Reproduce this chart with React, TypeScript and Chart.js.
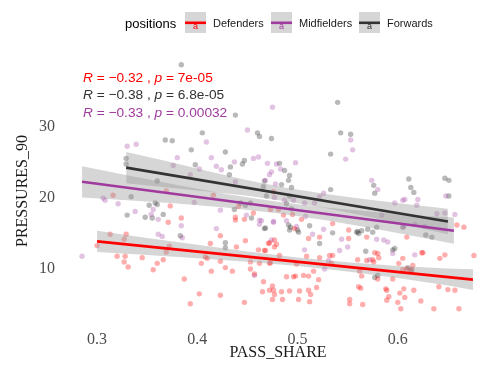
import React, { useEffect, useRef } from "react";
import { Chart, registerables } from "chart.js";

Chart.register(...registerables);

// ---- data ----
const seriesNames = ["Defenders", "Midfielders", "Forwards"];
const legendTitle = "positions";
const xTicks = [0.3, 0.4, 0.5, 0.6];
const yTicks = [10, 20, 30];
const xTitle = "PASS_SHARE";
const yTitle = "PRESSURES_90";

const corLabels = [
  { r: "−0.32", p: "7e-05" },
  { r: "−0.38", p: "6.8e-05" },
  { r: "−0.33", p: "0.00032" },
];

const defendersPoints: number[][] = [
  [0.316, 20.3], [0.369, 20.9], [0.416, 20.3], [0.373, 18.8], [0.371, 16.5], [0.384, 17.1], [0.423, 14.6],
  [0.448, 13.9], [0.413, 13.5], [0.313, 14.8], [0.329, 14.8], [0.327, 14.1], [0.30, 13.2], [0.32, 11.7],
  [0.328, 11.7], [0.327, 10.9], [0.331, 10.2], [0.345, 11.5], [0.36, 10.7], [0.366, 11.2], [0.356, 9.8],
  [0.369, 12.3], [0.372, 13.1], [0.387, 8.5], [0.402, 6.4], [0.393, 5.0], [0.404, 10.7], [0.41, 11.4],
  [0.408, 11.6], [0.414, 9.6], [0.423, 11.0], [0.428, 10.1], [0.435, 9.6], [0.423, 6.2], [0.447, 5.2],
  [0.438, 17.2], [0.438, 16.8], [0.447, 16.9], [0.456, 17.8], [0.441, 18.7], [0.453, 9.9], [0.453, 10.9],
  [0.457, 9.2], [0.439, 13.0], [0.461, 12.6], [0.468, 12.5], [0.472, 13.6], [0.477, 13.0], [0.479, 13.4],
  [0.462, 10.7], [0.472, 10.7], [0.466, 8.1], [0.475, 7.5], [0.472, 6.9], [0.465, 6.7], [0.475, 5.6],
  [0.477, 6.3], [0.476, 20.8], [0.473, 18.3], [0.481, 18.3], [0.486, 17.5], [0.504, 16.9], [0.495, 17.6],
  [0.497, 15.6], [0.511, 14.2], [0.522, 14.4], [0.535, 16.3], [0.471, 13.5], [0.477, 14.0], [0.467, 12.5],
  [0.482, 11.8], [0.473, 10.8], [0.499, 10.6], [0.509, 11.7], [0.522, 11.5], [0.532, 11.8], [0.535, 11.8],
  [0.534, 10.7], [0.489, 8.8], [0.496, 8.8], [0.498, 8.9], [0.506, 9.0], [0.511, 8.9], [0.516, 9.6],
  [0.521, 8.4], [0.519, 7.3], [0.502, 6.8], [0.492, 6.8], [0.484, 6.7], [0.476, 6.9], [0.485, 5.6],
  [0.501, 5.6], [0.512, 5.3], [0.513, 6.3], [0.511, 6.9], [0.552, 5.6], [0.552, 5.0], [0.565, 4.9],
  [0.56, 11.2], [0.569, 11.1], [0.562, 9.6], [0.564, 8.9], [0.561, 7.4], [0.563, 7.2], [0.551, 15.4],
  [0.551, 14.2], [0.569, 14.4], [0.577, 12.2], [0.58, 12.1], [0.581, 11.5], [0.575, 11.2], [0.576, 10.9],
  [0.609, 14.4], [0.659, 16.1], [0.666, 15.8], [0.605, 11.4], [0.601, 10.7], [0.605, 9.8], [0.609, 9.9],
  [0.613, 9.7], [0.615, 10.4], [0.624, 12.2], [0.625, 12.2], [0.642, 11.4], [0.647, 11.9], [0.676, 11.8],
  [0.595, 8.5], [0.606, 7.1], [0.602, 6.5], [0.607, 5.9], [0.58, 8.5], [0.589, 6.9], [0.588, 7.1],
  [0.591, 6.0], [0.589, 5.5], [0.6, 5.2], [0.603, 4.3], [0.616, 6.9], [0.623, 5.4], [0.636, 4.3],
  [0.65, 7.0], [0.657, 6.9], [0.661, 4.3], [0.641, 7.4],
];

const midfieldersPoints: number[][] = [
  [0.475, 32.7], [0.45, 29.5], [0.409, 27.8], [0.339, 27.5], [0.33, 27.2], [0.38, 25.6], [0.414, 25.6],
  [0.456, 25.5], [0.461, 25.7], [0.437, 25.0], [0.376, 24.5], [0.419, 24.4], [0.47, 24.8], [0.479, 24.7],
  [0.402, 24.0], [0.393, 23.2], [0.424, 23.9], [0.472, 23.2], [0.474, 23.6], [0.468, 22.4], [0.478, 21.9],
  [0.438, 22.2], [0.306, 19.9], [0.308, 19.6], [0.321, 19.1], [0.356, 18.3], [0.338, 18.0], [0.354, 17.6],
  [0.361, 16.9], [0.384, 16.0], [0.397, 19.3], [0.423, 18.2], [0.419, 15.6], [0.361, 14.8], [0.365, 14.5],
  [0.385, 14.3], [0.285, 11.7], [0.449, 17.5], [0.462, 16.8], [0.464, 16.7], [0.462, 16.2], [0.476, 16.5],
  [0.477, 20.0], [0.474, 14.0], [0.457, 9.0], [0.553, 28.1], [0.555, 26.7], [0.548, 25.4], [0.498, 24.9],
  [0.483, 24.0], [0.526, 20.6], [0.522, 20.1], [0.574, 22.4], [0.58, 21.1], [0.648, 20.2], [0.607, 19.7],
  [0.62, 19.7], [0.487, 19.6], [0.496, 19.6], [0.476, 16.6], [0.489, 16.7], [0.499, 15.9], [0.508, 17.3],
  [0.507, 19.2], [0.517, 19.2], [0.515, 14.8], [0.526, 15.5], [0.507, 12.6], [0.531, 11.1], [0.527, 9.9],
  [0.544, 14.1], [0.542, 12.5], [0.55, 13.0], [0.572, 11.2], [0.579, 14.1], [0.586, 14.0], [0.59, 13.7],
  [0.595, 12.1], [0.584, 17.5], [0.597, 19.2], [0.605, 19.6], [0.619, 18.9], [0.606, 15.9], [0.617, 16.2],
  [0.627, 15.9], [0.639, 17.7], [0.647, 17.8], [0.657, 17.6], [0.617, 11.9],
];

const forwardsPoints: number[][] = [
  [0.384, 38.7], [0.438, 31.6], [0.46, 29.1], [0.462, 28.6], [0.405, 29.1], [0.474, 28.3], [0.368, 28.1],
  [0.375, 28.0], [0.394, 26.7], [0.428, 26.4], [0.447, 25.2], [0.445, 24.7], [0.329, 25.5], [0.329, 24.7],
  [0.398, 24.6], [0.433, 24.3], [0.432, 23.2], [0.36, 22.3], [0.466, 21.5], [0.334, 20.1], [0.352, 18.9],
  [0.358, 19.2], [0.36, 19.0], [0.33, 17.5], [0.348, 17.2], [0.355, 17.1], [0.366, 17.6], [0.428, 13.6],
  [0.428, 12.9], [0.383, 14.6], [0.454, 17.1], [0.437, 18.3], [0.443, 19.2], [0.453, 19.2], [0.448, 18.9],
  [0.468, 15.7], [0.54, 33.4], [0.543, 29.1], [0.553, 28.9], [0.533, 26.1], [0.482, 24.8], [0.487, 23.8],
  [0.492, 23.1], [0.491, 22.4], [0.484, 21.8], [0.467, 22.3], [0.494, 21.4], [0.533, 21.1], [0.576, 21.7],
  [0.577, 20.6], [0.611, 22.6], [0.613, 21.4], [0.616, 20.7], [0.647, 22.7], [0.651, 22.4], [0.651, 20.2],
  [0.469, 20.2], [0.492, 20.2], [0.489, 19.1], [0.494, 18.4], [0.491, 16.1], [0.492, 15.4], [0.493, 15.8],
  [0.467, 15.6], [0.5, 15.4], [0.501, 15.1], [0.512, 16.0], [0.522, 13.5], [0.535, 15.0], [0.559, 15.1],
  [0.56, 15.2], [0.564, 15.3], [0.561, 14.9], [0.568, 12.4], [0.57, 15.5], [0.575, 15.1], [0.579, 15.8],
  [0.595, 12.6], [0.597, 12.8], [0.605, 15.8], [0.628, 14.7], [0.634, 14.4], [0.61, 10.1], [0.614, 9.8],
  [0.577, 8.7], [0.58, 9.0],
];

// fitted lines (endpoints)
const defendersFitX = [0.30, 0.675];
const defendersFitY = [13.8, 8.4];
const midfieldersFitX = [0.285, 0.656];
const midfieldersFitY = [22.2, 15.3];
const forwardsFitX = [0.329, 0.65];
const forwardsFitY = [24.2, 16.6];

// confidence bands
const defendersBandX = [0.30, 0.35, 0.40, 0.45, 0.50, 0.55, 0.60, 0.65, 0.675];
const defendersBandUpper = [15.3, 14.28, 13.31, 12.36, 11.52, 10.85, 10.33, 9.96, 9.85];
const defendersBandLower = [12.3, 11.88, 11.41, 10.92, 10.32, 9.55, 8.63, 7.56, 6.95];
const midfieldersBandX = [0.285, 0.33, 0.38, 0.43, 0.48, 0.53, 0.58, 0.63, 0.656];
const midfieldersBandUpper = [24.4, 23.11, 21.73, 20.45, 19.37, 18.54, 17.91, 17.38, 17.15];
const midfieldersBandLower = [20.0, 19.61, 19.13, 18.55, 17.77, 16.74, 15.51, 14.18, 13.45];
const forwardsBandX = [0.329, 0.37, 0.41, 0.45, 0.49, 0.53, 0.57, 0.61, 0.65];
const forwardsBandUpper = [26.4, 25.08, 23.73, 22.43, 21.33, 20.44, 19.69, 19.04, 18.4];
const forwardsBandLower = [22.0, 21.38, 20.83, 20.23, 19.43, 18.44, 17.29, 16.04, 14.8];

// ---- styles ----
const lineColors = ["#FF0000", "#A03A9E", "#333333"];
const pointColors = ["rgba(255,0,0,0.32)", "rgba(160,58,158,0.3)", "rgba(51,51,51,0.34)"];
const bandFill = "rgba(153,153,153,0.4)";
const SANS = '"Liberation Sans", Arial, sans-serif';
const SERIF = '"Liberation Serif", "DejaVu Serif", serif';

const toXY = (xs: number[], ys: number[]) => xs.map((x, i) => ({ x, y: ys[i] }));
const pairs = (a: number[][]) => a.map(([x, y]) => ({ x, y }));

const overlayPlugin = {
  id: "overlay",
  afterDraw(chart: any) {
    const ctx = chart.ctx as CanvasRenderingContext2D;
    const area = chart.chartArea;
    ctx.save();
    // legend
    ctx.textBaseline = "middle";
    ctx.textAlign = "left";
    ctx.fillStyle = "#000";
    ctx.font = `13px ${SANS}`;
    ctx.fillText(legendTitle, 125, 24);
    const boxX = [185, 271, 359];
    seriesNames.forEach((name, i) => {
      const bx = boxX[i];
      ctx.fillStyle = "#D6D6D6";
      ctx.fillRect(bx, 12, 21, 21);
      ctx.fillStyle = lineColors[i];
      ctx.font = `9px ${SANS}`;
      ctx.textAlign = "center";
      ctx.fillText("a", bx + 10.5, 26.5);
      ctx.strokeStyle = lineColors[i];
      ctx.lineWidth = 2.6;
      ctx.beginPath();
      ctx.moveTo(bx, 22.8);
      ctx.lineTo(bx + 21, 22.8);
      ctx.stroke();
      ctx.textAlign = "left";
      ctx.font = `11px ${SANS}`;
      ctx.fillStyle = "#1A1A1A";
      ctx.fillText(name, bx + 28, 23.5);
    });
    // correlation labels
    const textColors = [lineColors[0], lineColors[2], lineColors[1]];
    const lineY = [78, 95.5, 113.5];
    corLabels.forEach((lab, i) => {
      let x = area.left + 21;
      const y = lineY[i];
      ctx.fillStyle = textColors[i];
      const runs: [string, boolean][] = [
        ["R", true],
        [` = ${lab.r} , `, false],
        ["p", true],
        [` = ${lab.p}`, false],
      ];
      runs.forEach(([t, it]) => {
        ctx.font = `${it ? "italic " : ""}13.7px ${SANS}`;
        ctx.fillText(t, x, y);
        x += ctx.measureText(t).width;
      });
    });
    ctx.restore();
  },
};

export default function App() {
  const ref = useRef<HTMLCanvasElement>(null);
  useEffect(() => {
    const canvas = ref.current!;
    const lineDs = (xs: number[], ys: number[], i: number) => ({
      type: "line" as const,
      data: toXY(xs, ys),
      borderColor: lineColors[i],
      borderWidth: 2.6,
      pointRadius: 0,
      fill: false,
      order: 0,
      tension: 0,
    });
    const bandDs = (xs: number[], ys: number[], fill: any) => ({
      type: "line" as const,
      data: toXY(xs, ys),
      borderColor: "rgba(0,0,0,0)",
      borderWidth: 0,
      pointRadius: 0,
      backgroundColor: bandFill,
      fill,
      order: 1,
      tension: 0,
    });
    const ptDs = (pts: number[][], i: number) => ({
      type: "scatter" as const,
      data: pairs(pts),
      backgroundColor: pointColors[i],
      borderWidth: 0,
      pointRadius: 2.7,
      order: 2,
    });
    const chart = new Chart(canvas, {
      type: "scatter",
      data: {
        datasets: [
          ptDs(defendersPoints, 0),
          ptDs(midfieldersPoints, 1),
          ptDs(forwardsPoints, 2),
          bandDs(defendersBandX, defendersBandUpper, "+1"),
          bandDs(defendersBandX, defendersBandLower, false),
          bandDs(midfieldersBandX, midfieldersBandUpper, "+1"),
          bandDs(midfieldersBandX, midfieldersBandLower, false),
          bandDs(forwardsBandX, forwardsBandUpper, "+1"),
          bandDs(forwardsBandX, forwardsBandLower, false),
          lineDs(defendersFitX, defendersFitY, 0),
          lineDs(midfieldersFitX, midfieldersFitY, 1),
          lineDs(forwardsFitX, forwardsFitY, 2),
        ] as any,
      },
      options: {
        animation: false,
        responsive: false,
        devicePixelRatio: 1,
        events: [],
        layout: { padding: { top: 52, right: 6, left: 0, bottom: 0 } },
        plugins: { legend: { display: false }, tooltip: { enabled: false } },
        scales: {
          x: {
            type: "linear",
            min: 0.265,
            max: 0.696,
            grid: { display: false, drawTicks: false },
            border: { display: false },
            afterBuildTicks: (s: any) => {
              s.ticks = xTicks.map((v) => ({ value: v }));
            },
            afterFit: (s: any) => {
              s.height = 45;
            },
            ticks: {
              padding: 0,
              color: "#4D4D4D",
              font: { family: SERIF, size: 16 },
              callback: (v: any) => Number(v).toFixed(1),
            },
            title: {
              display: true,
              text: xTitle,
              color: "#1A1A1A",
              font: { family: SERIF, size: 16 },
              padding: { top: 0, bottom: 13 },
            },
          },
          y: {
            type: "linear",
            min: 1.3,
            max: 40.5,
            grid: { display: false, drawTicks: false },
            border: { display: false },
            afterBuildTicks: (s: any) => {
              s.ticks = yTicks.map((v) => ({ value: v }));
            },
            afterFit: (s: any) => {
              s.width = 62;
            },
            ticks: {
              padding: 7,
              color: "#4D4D4D",
              font: { family: SERIF, size: 16 },
              callback: (v: any) => String(v),
            },
            title: {
              display: true,
              text: yTitle,
              color: "#1A1A1A",
              font: { family: SERIF, size: 16 },
              padding: { top: 13, bottom: 0 },
            },
          },
        },
      } as any,
      plugins: [overlayPlugin],
    });
    return () => chart.destroy();
  }, []);
  return (
    <div style={{ position: "absolute", left: 0, top: 0, width: 500, height: 375, background: "#fff" }}>
      <canvas ref={ref} width={500} height={375} style={{ display: "block" }} />
    </div>
  );
}
